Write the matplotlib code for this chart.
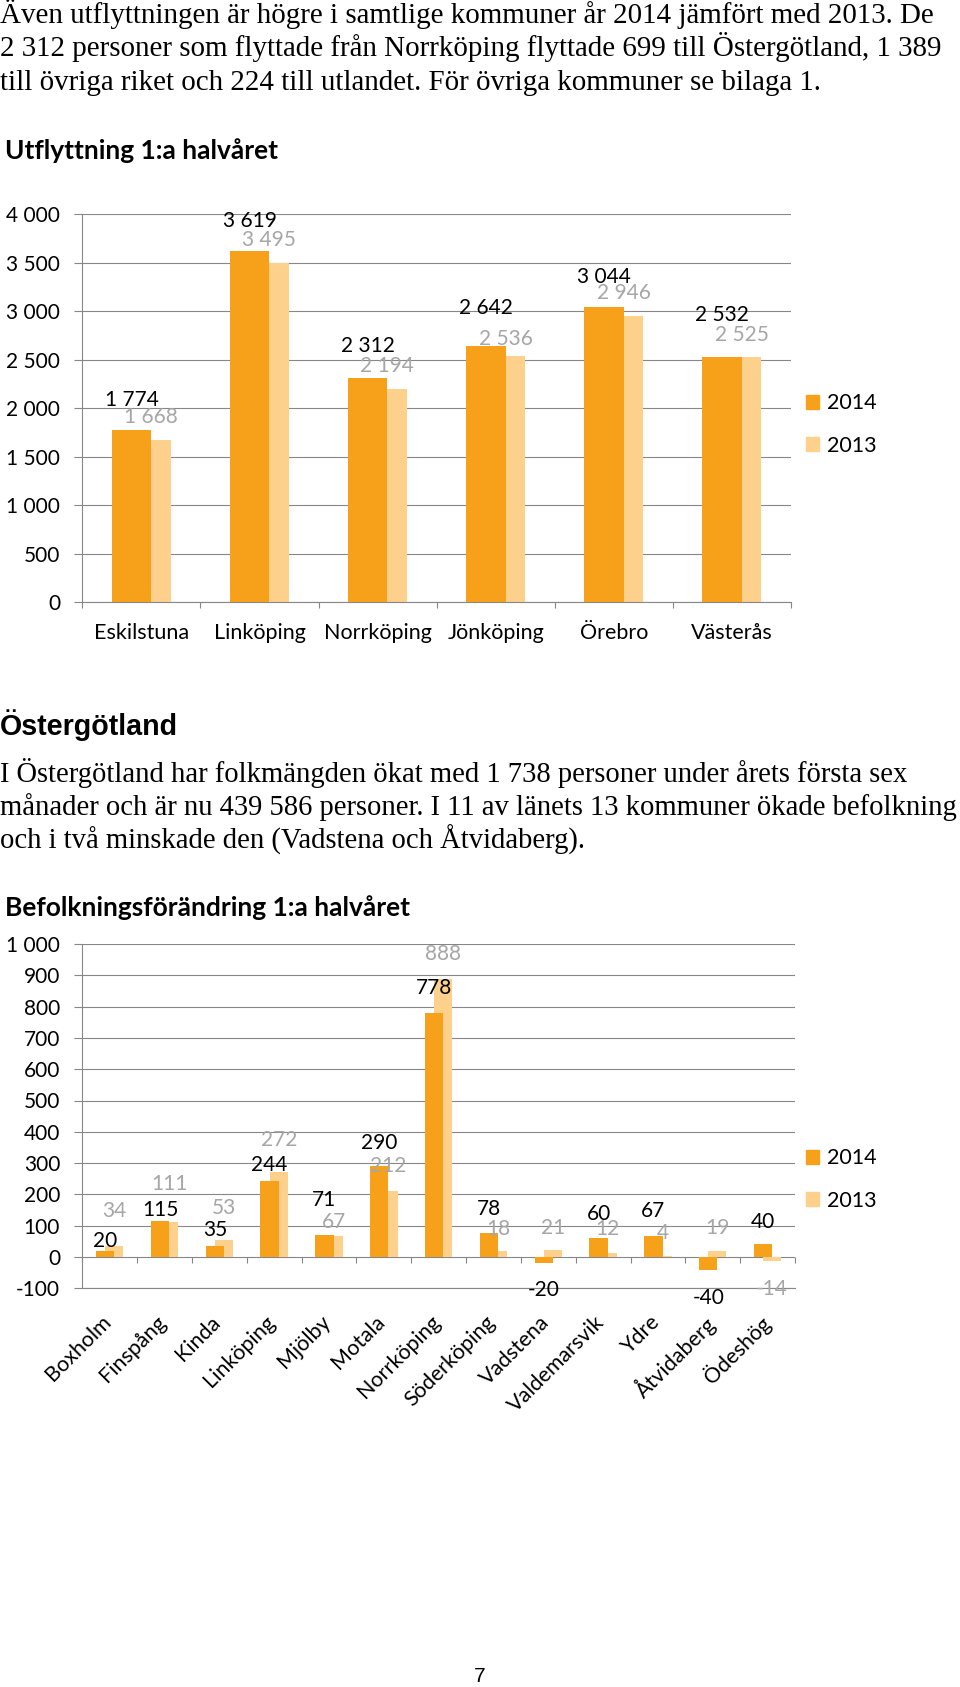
import numpy as np
import matplotlib.pyplot as plt
from matplotlib.ticker import FuncFormatter, MultipleLocator
from matplotlib.patches import Patch
from matplotlib.transforms import ScaledTranslation

W, H = 960, 1687

# Utflyttning 1:a halvåret
kommuner1 = ['Eskilstuna', 'Linköping', 'Norrköping', 'Jönköping', 'Örebro', 'Västerås']
ut_2014 = [1774, 3619, 2312, 2642, 3044, 2532]
ut_2013 = [1668, 3495, 2194, 2536, 2946, 2525]

# Befolkningsförändring 1:a halvåret
kommuner2 = ['Boxholm', 'Finspång', 'Kinda', 'Linköping', 'Mjölby', 'Motala', 'Norrköping',
             'Söderköping', 'Vadstena', 'Valdemarsvik', 'Ydre', 'Åtvidaberg', 'Ödeshög']
bef_2014 = [20, 115, 35, 244, 71, 290, 778, 78, -20, 60, 67, -40, 40]
bef_2013 = [34, 111, 53, 272, 67, 212, 888, 18, 21, 12, 4, 19, -14]

# distance of the value labels from the bar end (px), some were moved by hand in the original
dy1_2014 = [30, 30, 32, 38, 30, 42]
dy1_2013 = [23, 23, 23, 17, 23, 22]
dy2_2014 = [10, 11, 16, 16, 35, 23, 25, 24, 27, 24, 25, 28, 22]
dy2_2013 = [35, 38, 32, 32, 14, 25, 25, 22, 22, 24, 23, 23, 28]

para1 = ['Även utflyttningen är högre i samtlige kommuner år 2014 jämfört med 2013. De',
         '2 312 personer som flyttade från Norrköping flyttade 699 till Östergötland, 1 389',
         'till övriga riket och 224 till utlandet. För övriga kommuner se bilaga 1.']
para2 = ['I Östergötland har folkmängden ökat med 1 738 personer under årets första sex',
         'månader och är nu 439 586 personer. I 11 av länets 13 kommuner ökade befolkning',
         'och i två minskade den (Vadstena och Åtvidaberg).']

C14 = '#F7A11A'
C13 = '#FDD08C'
GRID = '#878787'
LAB13 = '#A6A6A6'
FS = 15
FSX = 15.5
CHART_FONT = ['Lato', 'DejaVu Sans']
SERIF = ['Liberation Serif', 'DejaVu Serif']
SANS = ['Liberation Sans', 'DejaVu Sans']

plt.rcParams['font.family'] = CHART_FONT


def fmt(v):
    return f'{int(v):,}'.replace(',', ' ')


def px_text(fig, x, y, s, **kw):
    fig.text(x / W, 1 - y / H, s, **kw)


def draw_bars(ax, cats, v14, v13, dy14, dy13):
    x = np.arange(len(cats))
    w = 1 / 3
    ax.bar(x + w / 4, v13, w, color=C13, zorder=2)
    ax.bar(x - w / 4, v14, w, color=C14, zorder=3)
    for xi, v, d in zip(x - w / 4, v14, dy14):
        ax.annotate(fmt(v), (xi, v), xytext=(0, np.sign(v) * d * 0.72), textcoords='offset points',
                    ha='center', va='center', fontsize=FS, color='black', zorder=5)
    for xi, v, d in zip(x + w / 4, v13, dy13):
        ax.annotate(fmt(v), (xi, v), xytext=(0, np.sign(v) * d * 0.72), textcoords='offset points',
                    ha='center', va='center', fontsize=FS, color=LAB13, zorder=4)
    ax.set_xlim(-0.5, len(cats) - 0.5)
    ax.yaxis.grid(True, color=GRID, lw=0.8)
    ax.set_axisbelow(True)
    for s in ['top', 'right']:
        ax.spines[s].set_visible(False)
    for s in ['left', 'bottom']:
        ax.spines[s].set_color(GRID)
        ax.spines[s].set_linewidth(0.8)
    ax.yaxis.set_major_formatter(FuncFormatter(lambda v, p: fmt(v)))
    ax.tick_params(axis='y', length=5.5, width=0.8, color=GRID, pad=10.5, labelsize=FS)
    return x


def legend(fig, y):
    handles = [Patch(color=C14, label='2014'), Patch(color=C13, label='2013')]
    fig.legend(handles=handles, loc='center left', bbox_to_anchor=(806 / W, 1 - y / H),
               frameon=False, fontsize=15.5, handlelength=0.62, handleheight=0.62,
               handletextpad=0.35, labelspacing=1.05, borderpad=0, borderaxespad=0)


fig = plt.figure(figsize=(W / 100, H / 100), dpi=100)

# page text
for i, line in enumerate(para1):
    px_text(fig, 0, 23 + i * 33.4, line, family=SERIF, fontsize=20.9, va='baseline')
px_text(fig, 0, 735, 'Östergötland', family=SANS, fontsize=20.6, weight='bold', va='baseline')
for i, line in enumerate(para2):
    px_text(fig, 0, 782 + i * 33.4, line, family=SERIF, fontsize=20.6, va='baseline')
px_text(fig, 480, 1676, '7', family=SANS, fontsize=15, ha='center', va='center')

# chart 1
px_text(fig, 5, 159, 'Utflyttning 1:a halvåret', fontsize=19, weight='bold', va='baseline')
ax1 = fig.add_axes([82.3 / W, 1 - 602.3 / H, (791 - 82.3) / W, (602.3 - 214) / H])
x1 = draw_bars(ax1, kommuner1, ut_2014, ut_2013, dy1_2014, dy1_2013)
ax1.set_ylim(0, 4000)
ax1.yaxis.set_major_locator(MultipleLocator(500))
ax1.set_xticks(x1, kommuner1)
ax1.set_xticks(np.arange(len(kommuner1) + 1) - 0.5, minor=True)
ax1.tick_params(axis='x', which='major', length=0, pad=15, labelsize=FSX)
ax1.tick_params(axis='x', which='minor', length=4.3, width=0.8, color=GRID)
legend(fig, 424.5)

# chart 2
px_text(fig, 5, 916, 'Befolkningsförändring 1:a halvåret', fontsize=19, weight='bold', va='baseline')
ax2 = fig.add_axes([82.3 / W, 1 - 1288.3 / H, (795 - 82.3) / W, (1288.3 - 944) / H])
x2 = draw_bars(ax2, kommuner2, bef_2014, bef_2013, dy2_2014, dy2_2013)
ax2.set_ylim(-100, 1000)
ax2.yaxis.set_major_locator(MultipleLocator(100))
ax2.set_xticks(x2, kommuner2)
ax2.tick_params(axis='x', length=0, pad=17, labelsize=FSX)
shift = ScaledTranslation(-9 / 100, 0, fig.dpi_scale_trans)
for lab in ax2.get_xticklabels():
    lab.set_rotation(45)
    lab.set_ha('right')
    lab.set_rotation_mode('anchor')
    lab.set_transform(lab.get_transform() + shift)
bounds = np.arange(len(kommuner2) + 1) - 0.5
ax2.plot(bounds, np.zeros(len(bounds)), ls='none', marker=3, ms=4.5, mew=0.8, color=GRID,
         clip_on=False, zorder=1)
legend(fig, 1179.5)

fig.savefig('out.png', dpi=100)
